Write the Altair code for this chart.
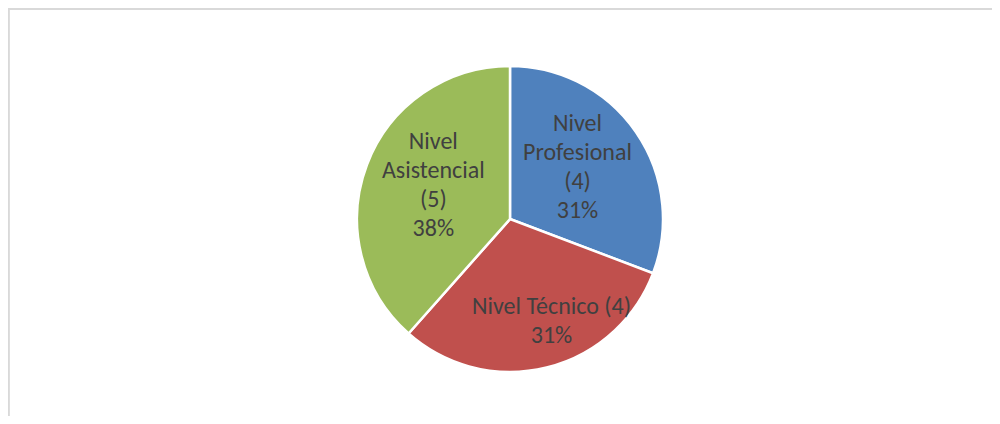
import altair as alt
import pandas as pd

categorias = ["Nivel Profesional", "Nivel Técnico", "Nivel Asistencial"]
cantidades = [4, 4, 5]
lineas = [["Nivel", "Profesional"], ["Nivel Técnico"], ["Nivel", "Asistencial"]]
colores = ["#4F81BD", "#C0504D", "#9BBB59"]

total = sum(cantidades)
etiquetas = []
for i, n in enumerate(cantidades):
    pct = f"{round(100 * n / total)}%"
    ls = list(lineas[i])
    if len(ls) == 1:
        ls = [f"{ls[0]} ({n})", pct]
    else:
        ls = ls + [f"({n})", pct]
    etiquetas.append("\n".join(ls))

df = pd.DataFrame({
    "categoria": categorias,
    "cantidad": cantidades,
    "orden": list(range(len(categorias))),
    "etiqueta": etiquetas,
})

CX, CY = 502, 211
FONT = "Calibri, Carlito, Lato"

base = alt.Chart(df).encode(
    theta=alt.Theta("cantidad:Q", stack=True),
    order=alt.Order("orden:Q"),
    x=alt.value(CX),
    y=alt.value(CY),
)

arcs = base.mark_arc(outerRadius=153, stroke="white", strokeWidth=2.5).encode(
    color=alt.Color("categoria:N", scale=alt.Scale(domain=categorias, range=colores), legend=None)
)

txt_style = dict(font=FONT, fontSize=24, color="#404040", lineBreak="\n", lineHeight=29,
                 align="center", baseline="middle")

txt_a = base.mark_text(radius=82, dy=-48, **txt_style).encode(
    text=alt.condition(alt.datum.categoria == "Nivel Técnico", alt.value(""), alt.Text("etiqueta:N"))
)
txt_b = base.mark_text(radius=94, dx=19, dy=-3, **txt_style).encode(
    text=alt.condition(alt.datum.categoria == "Nivel Técnico", alt.Text("etiqueta:N"), alt.value(""))
)

border_top = alt.Chart(df).mark_rule(color="#D9D9D9", strokeWidth=1.5).encode(
    x=alt.value(0), x2=alt.value(984), y=alt.value(1)
)
border_left = alt.Chart(df).mark_rule(color="#D9D9D9", strokeWidth=1.5).encode(
    x=alt.value(0.75), y=alt.value(0), y2=alt.value(408)
)

chart = alt.layer(border_top, border_left, arcs, txt_a, txt_b).properties(
    width=984, height=408,
    padding=0,
    autosize=alt.AutoSizeParams(type="none"),
).configure_view(stroke=None)

chart.save("out.html", embed_options={"renderer": "svg", "actions": False})
